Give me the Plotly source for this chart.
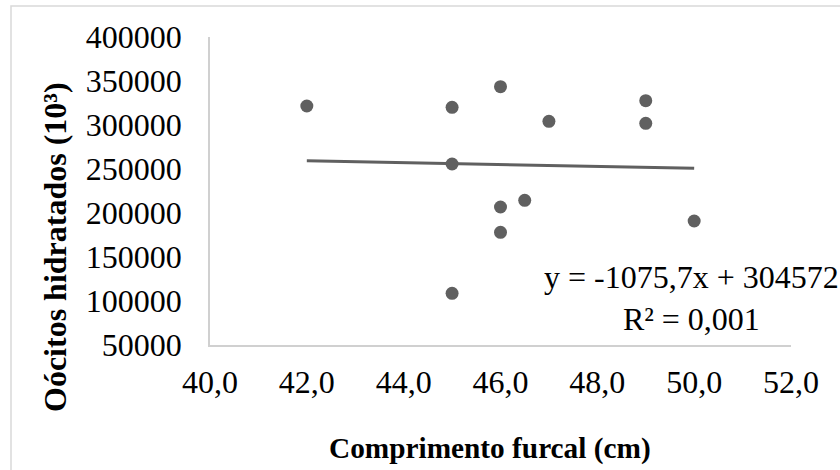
import plotly.graph_objects as go

comprimento = [42, 45, 46, 47, 49, 49, 45, 46, 46.5, 46, 50, 45]
oocitos = [321600, 320100, 343500, 304200, 327600, 301900, 255700, 206800, 214400, 178000, 190900, 108700]
slope = -1075.7
intercept = 304572
trend_x = [min(comprimento), max(comprimento)]
trend_y = [slope * v + intercept for v in trend_x]
x_ticks = [40, 42, 44, 46, 48, 50, 52]
x_tick_labels = ["40,0", "42,0", "44,0", "46,0", "48,0", "50,0", "52,0"]
y_ticks = [50000, 100000, 150000, 200000, 250000, 300000, 350000, 400000]
y_tick_labels = [str(v) for v in y_ticks]

FONT = "'Liberation Serif', 'Times New Roman', serif"
GREY = "#606060"

L, R, T, B = 210, 791, 37, 345
PW, PH = R - L, B - T


def px(xp):
    return (xp - L) / PW


def py(yp):
    return (B - yp) / PH


fig = go.Figure()
fig.add_trace(go.Scatter(x=trend_x, y=trend_y, mode="lines",
                         line=dict(color=GREY, width=3), hoverinfo="skip"))
fig.add_trace(go.Scatter(x=comprimento, y=oocitos, mode="markers",
                         marker=dict(color=GREY, size=13)))

fig.update_layout(
    width=840, height=470,
    margin=dict(l=L, r=840 - R, t=T, b=470 - B),
    paper_bgcolor="white", plot_bgcolor="white",
    showlegend=False,
    font=dict(family=FONT, size=32, color="black"),
    xaxis=dict(range=[40, 52], tickvals=x_ticks, ticktext=x_tick_labels,
               showgrid=False, zeroline=False, showline=True, linecolor="#d0d0d0", linewidth=1.5,
               ticks="outside", ticklen=8, tickcolor="rgba(0,0,0,0)",
               tickfont=dict(family=FONT, size=32)),
    yaxis=dict(range=[50000, 400000], tickvals=y_ticks, ticktext=y_tick_labels,
               showgrid=False, zeroline=False, showline=True, linecolor="#d0d0d0", linewidth=1.5,
               ticks="outside", ticklen=20, tickcolor="rgba(0,0,0,0)",
               tickfont=dict(family=FONT, size=32)),
    annotations=[
        dict(xref="paper", yref="paper", x=0.8296, y=0.152,
             text="y = -1075,7x + 304572<br>R² = 0,001", showarrow=False,
             align="center", xanchor="center", yanchor="middle",
             font=dict(family=FONT, size=32, color="black")),
        dict(xref="paper", yref="paper", x=px(490), y=py(449),
             text="<b>Comprimento furcal (cm)</b>", showarrow=False,
             xanchor="center", yanchor="middle",
             font=dict(family=FONT, size=29.3, color="black")),
        dict(xref="paper", yref="paper", x=px(55), y=py(247),
             text="<b>Oócitos hidratados (10³)</b>", showarrow=False, textangle=-90,
             xanchor="center", yanchor="middle",
             font=dict(family=FONT, size=32, color="black")),
    ],
    shapes=[dict(type="rect", xref="paper", yref="paper",
                 x0=px(11), x1=1.2, y0=-0.5, y1=py(6),
                 line=dict(color="#d9d9d9", width=1.5), fillcolor="rgba(0,0,0,0)", layer="below")],
)

fig.write_html("out.html")
